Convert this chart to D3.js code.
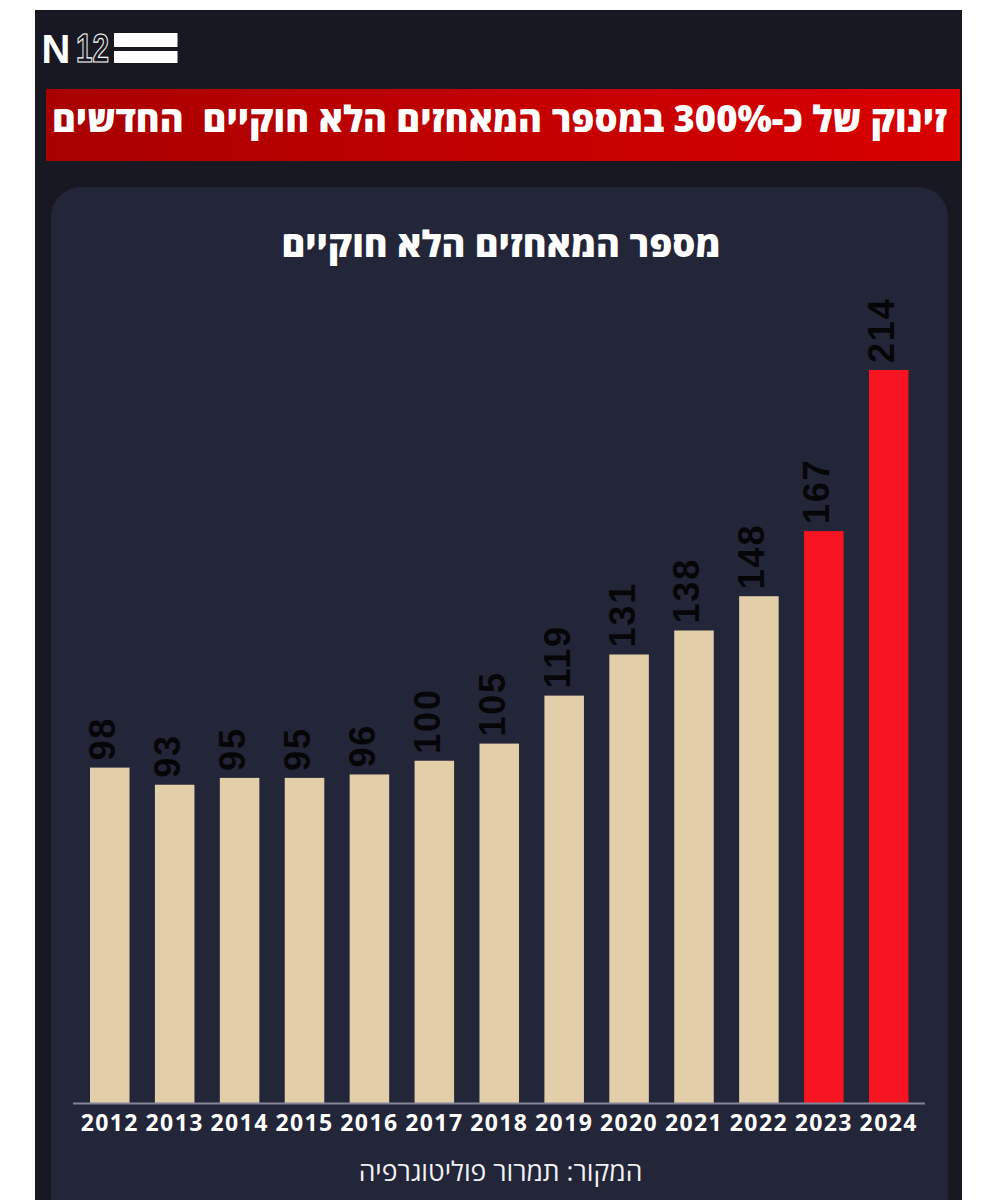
<!DOCTYPE html>
<html lang="he"><head><meta charset="utf-8">
<style>html,body{margin:0;padding:0;background:#fff}svg{display:block}</style>
<script src="https://cdnjs.cloudflare.com/ajax/libs/d3/7.8.5/d3.min.js"></script></head>
<body><div id="c"></div>
<script>
const years=["2012","2013","2014","2015","2016","2017","2018","2019","2020","2021","2022","2023","2024"];
const values=[98,93,95,95,96,100,105,119,131,138,148,167,214];
const highlightYears=["2023","2024"];
const headline="זינוק של כ-300% במספר המאחזים הלא חוקיים  החדשים";
const chartTitle="מספר המאחזים הלא חוקיים";
const source="המקור: תמרור פוליטוגרפיה";
const logoBars=[0,1];

const svg=d3.select("#c").append("svg").attr("width",997).attr("height",1200);
const defs=svg.append("defs");
const g=defs.append("linearGradient").attr("id","ban");
g.append("stop").attr("offset","0").attr("stop-color","#a80000");
g.append("stop").attr("offset","0.45").attr("stop-color","#c00000");
g.append("stop").attr("offset","1").attr("stop-color","#d90000");

svg.append("rect").attr("x",35).attr("y",10).attr("width",927).attr("height",1190).attr("fill","#171821");
svg.append("rect").attr("x",46).attr("y",89).attr("width",914).attr("height",72).attr("fill","url(#ban)");
svg.append("rect").attr("x",51).attr("y",187).attr("width",897).attr("height",1040).attr("rx",30).attr("fill","#232538");

// logo
svg.append("text").attr("x",41.5).attr("y",62.5).attr("font-family","Liberation Sans").attr("font-weight",700)
  .attr("font-size",40).attr("fill","#fff").text("N");
svg.append("text").attr("x",76).attr("y",62).attr("font-family","Liberation Sans").attr("font-weight",700)
  .attr("font-size",40).attr("textLength",33).attr("lengthAdjust","spacingAndGlyphs")
  .attr("fill","none").attr("stroke","#fff").attr("stroke-width",1.2).text("12");
svg.selectAll(".lb").data(logoBars).join("rect").attr("x",114).attr("width",63.5)
  .attr("y",d=>d?51:33).attr("height",d=>d?12:14).attr("fill","#fff");

const heb="'Open Sans','Noto Sans',sans-serif";
svg.append("text").attr("x",947).attr("y",132).attr("direction","rtl").attr("text-anchor","start")
  .style("white-space","pre").attr("font-family",heb).attr("font-weight",800).attr("font-size",36.3).attr("fill","#fff").text(headline);
svg.append("text").attr("x",501).attr("y",257).attr("direction","rtl").attr("text-anchor","middle")
  .attr("font-family",heb).attr("font-weight",800).attr("font-size",36.2).attr("fill","#fff").text(chartTitle);

const x=d3.scaleBand().domain(years).range([90,908.5]).paddingInner(0.391).paddingOuter(0);
const y=d3.scaleLinear().domain([0,214]).range([1103.5,370]);

svg.selectAll(".bar").data(values).join("rect").attr("class","bar")
  .attr("x",(d,i)=>x(years[i])).attr("width",x.bandwidth())
  .attr("y",d=>y(d)).attr("height",d=>y(0)-y(d))
  .attr("fill",(d,i)=>highlightYears.includes(years[i])?"#f61420":"#e2cea9");

svg.selectAll(".val").data(values).join("text").attr("class","val")
  .attr("transform",(d,i)=>`translate(${x(years[i])+x.bandwidth()/2+5.5},${y(d)-7}) rotate(-90)`)
  .attr("font-family","Liberation Sans").attr("font-weight",700).attr("font-size",36).attr("letter-spacing",1.8).attr("fill","#060608").text(d=>d);

const ax=svg.append("g").attr("transform","translate(0,1103.5)")
  .call(d3.axisBottom(x).tickSize(0).tickPadding(11));
ax.select(".domain").remove();
ax.selectAll("text").attr("font-family","'Open Sans'").attr("font-weight",700).attr("font-size",23)
  .attr("letter-spacing",1.4).attr("fill","#fff").attr("dy","0.71em");
svg.append("line").attr("x1",73).attr("x2",925).attr("y1",1103.5).attr("y2",1103.5).attr("stroke","#85859a").attr("stroke-width",2);

svg.append("text").attr("x",500.5).attr("y",1181).attr("direction","rtl").attr("text-anchor","middle")
  .attr("font-family",heb).attr("font-size",26.5).attr("fill","#f2f2f4").text(source);
</script></body></html>
